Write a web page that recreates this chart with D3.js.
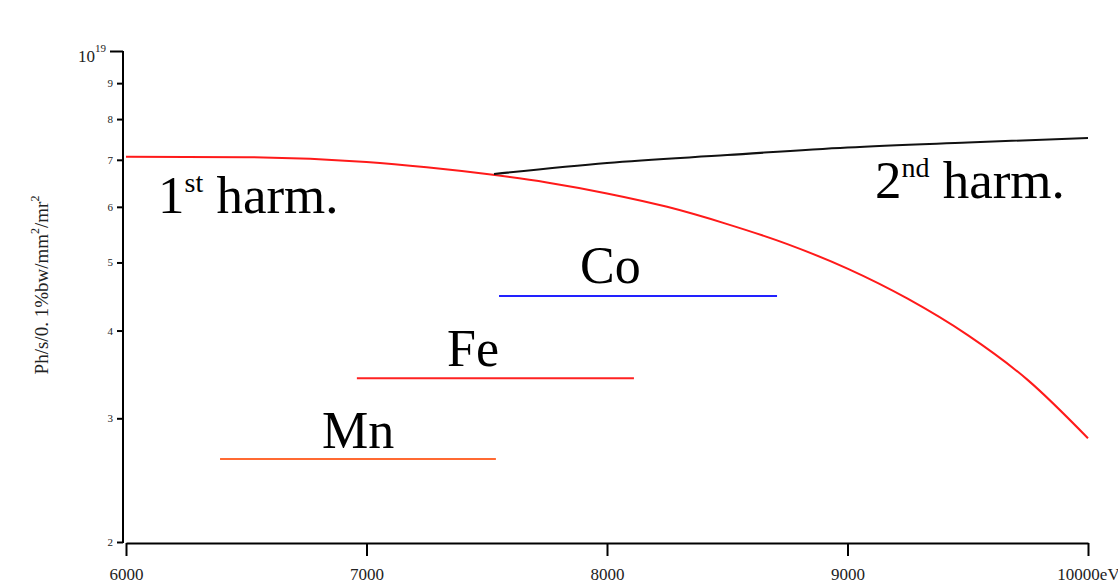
<!DOCTYPE html>
<meta charset="utf-8">
<style>
body { margin: 0; background: #fff; }
text { font-family: "Liberation Serif", "Times New Roman", serif; }
.axis path, .axis line { fill: none; stroke: #000; stroke-width: 2px; }
.axis text { fill: #222; }
.curve { fill: none; stroke-width: 2px; }
</style>
<svg width="1118" height="586"></svg>
<script src="https://d3js.org/d3.v7.min.js"></script>
<script>
// photon energy (eV) and flux (units of 1e18 ph/s/0.1%bw/mm2/mr2)
var harm1E = [6000, 6500, 7000, 7250, 7500, 7750, 8000, 8250, 8500, 8750, 9000, 9250, 9500, 9750, 10000];
var harm1V = [7.07, 7.06, 6.95, 6.83, 6.68, 6.50, 6.27, 6.00, 5.67, 5.31, 4.90, 4.44, 3.94, 3.40, 2.81];
var harm2E = [7530, 8000, 8500, 9000, 9500, 10000];
var harm2V = [6.68, 6.93, 7.11, 7.29, 7.41, 7.52];

// element edge ranges
var elements = ["Mn", "Fe", "Co"];
var elemStart = [6391, 6960, 7551];
var elemEnd = [7538, 8112, 8707];
var elemLevel = [2.625, 3.42, 4.48];
var elemColor = ["#ff6a33", "#ff2222", "#2222ff"];
var elemLabelE = [6815, 7335, 7888];
var elemLabelV = [2.72, 3.56, 4.68];

var xTicks = [6000, 7000, 8000, 9000, 10000];
var yTicks = [2, 3, 4, 5, 6, 7, 8, 9, 10];

var svg = d3.select("svg");

var x = d3.scaleLinear().domain([6000, 10000]).range([126, 1088]);
var y = d3.scaleLog().domain([2, 10]).range([542, 51]);

// axes
svg.append("g")
    .attr("class", "axis")
    .attr("transform", "translate(0,543)")
    .call(d3.axisBottom(x).tickValues(xTicks).tickSize(13).tickSizeOuter(0).tickPadding(12)
      .tickFormat(function(d) { return d === 10000 ? "10000eV" : d; }))
    .selectAll("text").attr("font-size", 17).attr("font-family", "Liberation Serif");

var ya = svg.append("g")
    .attr("class", "axis")
    .attr("transform", "translate(123,0)")
    .call(d3.axisLeft(y).tickValues(yTicks).tickSize(6).tickSizeOuter(0).tickPadding(4)
      .tickFormat(function(d) { return d === 10 ? "" : d; }));
ya.selectAll("text").attr("font-size", 11).attr("font-family", "Liberation Serif");
ya.selectAll(".tick").filter(function(d) { return d === 10; }).select("line").attr("x2", -13);
ya.select(".domain").attr("d", "M0," + y(10) + "V543");

var topLab = svg.append("text").attr("x", 78).attr("y", y(10) + 11).attr("font-size", 17).attr("fill", "#222");
topLab.append("tspan").text("10");
topLab.append("tspan").attr("font-size", 11).attr("dy", -10).text("19");

// y label
var yl = svg.append("text")
    .attr("transform", "translate(48,285) rotate(-90)")
    .attr("text-anchor", "middle")
    .attr("font-size", 19)
    .attr("fill", "#222");
yl.append("tspan").text("Ph/s/0. 1%bw/mm");
yl.append("tspan").attr("font-size", 12).attr("dy", -9).text("2");
yl.append("tspan").attr("dy", 9).text("/mr");
yl.append("tspan").attr("font-size", 12).attr("dy", -9).text("2");

// curves
var line = d3.line()
    .x(function(d) { return x(d[0]); })
    .y(function(d) { return y(d[1]); })
    .curve(d3.curveMonotoneX);

svg.append("path")
    .attr("class", "curve")
    .attr("stroke", "#ff1a1a")
    .attr("d", line(d3.zip(harm1E, harm1V)));

svg.append("path")
    .attr("class", "curve")
    .attr("stroke", "#111")
    .attr("d", line(d3.zip(harm2E, harm2V)));

// element lines
svg.selectAll(".elem")
    .data(elements)
    .enter()
    .append("line")
    .attr("class", "elem")
    .attr("x1", function(d, i) { return x(elemStart[i]); })
    .attr("x2", function(d, i) { return x(elemEnd[i]); })
    .attr("y1", function(d, i) { return y(elemLevel[i]); })
    .attr("y2", function(d, i) { return y(elemLevel[i]); })
    .attr("stroke", function(d, i) { return elemColor[i]; })
    .attr("stroke-width", 2);

svg.selectAll(".elabel")
    .data(elements)
    .enter()
    .append("text")
    .attr("class", "elabel")
    .attr("x", function(d, i) { return x(elemLabelE[i]); })
    .attr("y", function(d, i) { return y(elemLabelV[i]); })
    .attr("font-size", 52)
    .text(function(d) { return d; });

// harmonic labels
function harmLabel(num, sup, e, v) {
  var t = svg.append("text").attr("x", x(e)).attr("y", y(v)).attr("font-size", 53);
  t.append("tspan").text(num);
  t.append("tspan").attr("font-size", 28).attr("dy", -21).text(sup);
  t.append("tspan").attr("dy", 21).text(" harm.");
}
harmLabel("1", "st", 6133, 5.88);
harmLabel("2", "nd", 9114, 6.18);
</script>
